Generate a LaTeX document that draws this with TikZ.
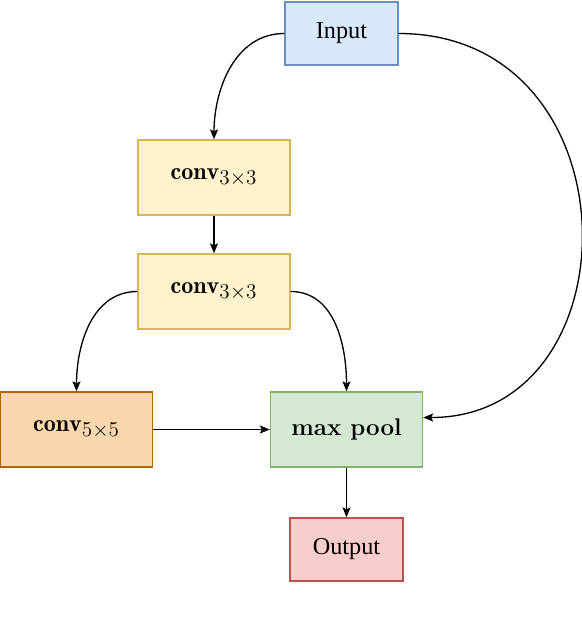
\documentclass[tikz,border=0pt]{standalone}
\usepackage{amsmath}
\usepackage{fontspec}
\newfontfamily\captfont{Liberation Serif}
\usetikzlibrary{arrows.meta}
\def\defaultscriptratio{.92}

\definecolor{inFill}{HTML}{DAE8FC}
\definecolor{inLine}{HTML}{6C8EBF}
\definecolor{convFill}{HTML}{FFF2CC}
\definecolor{convLine}{HTML}{D6B656}
\definecolor{bigFill}{HTML}{FAD7AC}
\definecolor{bigLine}{HTML}{B46504}
\definecolor{poolFill}{HTML}{D5E8D4}
\definecolor{poolLine}{HTML}{82B366}
\definecolor{outFill}{HTML}{F8CECC}
\definecolor{outLine}{HTML}{B85450}

\tikzset{
  blk/.style={draw, line width=0.75pt, minimum width=3.04cm, minimum height=1.5cm,
    font=\fontsize{13.7}{16}\selectfont},
  io/.style={blk, minimum width=2.26cm, minimum height=1.26cm,
    font=\fontsize{13.8}{16}\selectfont\captfont},
  edge/.style={line width=0.75pt, -{Stealth[length=0.2cm,width=0.16cm,inset=0.04cm]}}
}

\begin{document}
\begin{tikzpicture}
    \useasboundingbox (0cm,0cm) rectangle (11.64cm,-12.36cm);
    \node[io, fill=inFill, draw=inLine]      (input)  at (6.83cm,-0.67cm)  {Input};
    \node[blk, fill=convFill, draw=convLine] (convA)  at (4.28cm,-3.55cm)  {$\mathbf{conv}_{3\times 3}$};
    \node[blk, fill=convFill, draw=convLine] (convB)  at (4.28cm,-5.83cm)  {$\mathbf{conv}_{3\times 3}$};
    \node[blk, fill=bigFill, draw=bigLine]   (convC)  at (1.53cm,-8.59cm)  {$\mathbf{conv}_{5\times 5}$};
    \node[blk, fill=poolFill, draw=poolLine] (pool)   at (6.93cm,-8.59cm)  {\textbf{max pool}};
    \node[io, fill=outFill, draw=outLine]    (output) at (6.93cm,-10.99cm) {Output};
    \draw[edge] (input.west) to[out=180,in=90] (convA.north);
    \draw[edge] (input.east) .. controls (12.76cm,-0.67cm) and (12.76cm,-8.36cm) .. ([yshift=0.24cm]pool.east);
    \draw[edge] (convA.south) -- (convB.north);
    \draw[edge] (convB.west) to[out=180,in=90] (convC.north);
    \draw[edge] (convB.east) to[out=0,in=90] (pool.north);
    \draw[edge] (convC.east) -- (pool.west);
    \draw[edge] (pool.south) -- (output.north);
\end{tikzpicture}
\end{document}
